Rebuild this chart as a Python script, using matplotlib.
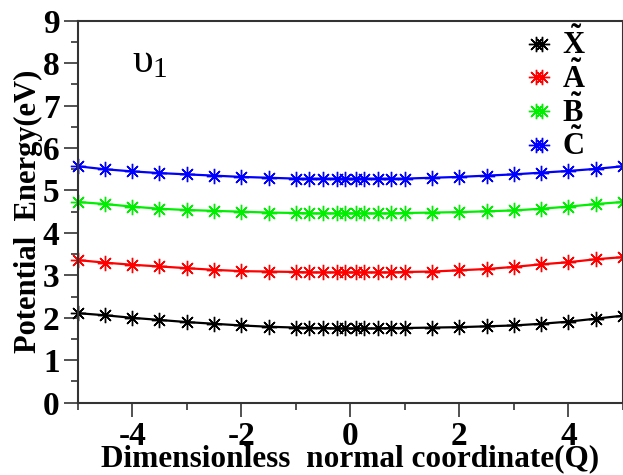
import numpy as np
import matplotlib
matplotlib.use("Agg")
import matplotlib.pyplot as plt
from matplotlib.ticker import MultipleLocator

plt.rcParams['font.family'] = ['Liberation Serif', 'DejaVu Serif']
plt.rcParams['font.weight'] = 'bold'
plt.rcParams['axes.unicode_minus'] = False
plt.rcParams['mathtext.fontset'] = 'custom'
plt.rcParams['mathtext.rm'] = 'Liberation Serif:weight=normal'
plt.rcParams['mathtext.bf'] = 'Liberation Serif:bold'
plt.rcParams['mathtext.it'] = 'Liberation Serif:italic'

# data
q = [-5, -4.5, -4, -3.5, -3, -2.5, -2, -1.5, -1, -0.75, -0.5, -0.25, -0.1,
     0.1, 0.25, 0.5, 0.75, 1, 1.5, 2, 2.5, 3, 3.5, 4, 4.5, 5]
X = [2.11, 2.06, 2.00, 1.95, 1.90, 1.86, 1.82, 1.79, 1.77, 1.76, 1.76, 1.75, 1.75,
     1.75, 1.75, 1.75, 1.76, 1.76, 1.77, 1.78, 1.80, 1.82, 1.86, 1.91, 1.98, 2.05]
A = [3.36, 3.30, 3.25, 3.21, 3.17, 3.13, 3.10, 3.09, 3.08, 3.07, 3.07, 3.07, 3.07,
     3.07, 3.07, 3.07, 3.07, 3.08, 3.09, 3.12, 3.15, 3.20, 3.26, 3.31, 3.38, 3.43]
B = [4.73, 4.68, 4.62, 4.57, 4.54, 4.52, 4.50, 4.48, 4.47, 4.46, 4.46, 4.46, 4.46,
     4.46, 4.46, 4.46, 4.46, 4.47, 4.48, 4.49, 4.51, 4.53, 4.57, 4.62, 4.68, 4.73]
C = [5.57, 5.50, 5.45, 5.41, 5.38, 5.35, 5.32, 5.30, 5.28, 5.28, 5.28, 5.28, 5.28,
     5.28, 5.28, 5.28, 5.28, 5.28, 5.30, 5.32, 5.35, 5.38, 5.42, 5.46, 5.51, 5.57]
labels = [r'$\mathbf{\tilde{X}}$', r'$\mathbf{\tilde{A}}$',
          r'$\mathbf{\tilde{B}}$', r'$\mathbf{\tilde{C}}$']
colors = ['black', 'red', '#00ee00', 'blue']

fig = plt.figure(figsize=(6.23, 4.75), dpi=100)
ax = fig.add_axes([0.1247, 0.1522, 0.8753, 0.8042])

for ys, lab, c in zip([X, A, B, C], labels, colors):
    ax.plot(q, ys, color=c, lw=1.6, marker=(8, 2, 0), markersize=11,
            markeredgewidth=1.0, label=lab, clip_on=False)

ax.set_xlim(-5, 5)
ax.set_ylim(0, 9)
ax.xaxis.set_major_locator(MultipleLocator(2))
ax.xaxis.set_minor_locator(MultipleLocator(1))
ax.yaxis.set_major_locator(MultipleLocator(1))
ax.yaxis.set_minor_locator(MultipleLocator(0.5))
ax.tick_params(which='major', direction='out', length=10, width=1.2, color='#333333',
               labelsize=24, pad=3)
ax.tick_params(which='minor', direction='out', length=5, width=1.2, color='#333333')
ax.tick_params(axis='x', pad=3)
for s in ax.spines.values():
    s.set_linewidth(1.5)
    s.set_color('#333333')

ax.set_xlabel('Dimensionless  normal coordinate(Q)', fontsize=22.5, fontweight='bold')
ax.xaxis.set_label_coords(0.5, -0.108)
ax.set_ylabel('Potential  Energy(eV)', fontsize=22, fontweight='bold', labelpad=0)

ax.text(0.10, 0.865, r'$\mathrm{\upsilon}_{1}$', transform=ax.transAxes, fontsize=30,
        fontweight='normal')

leg = ax.legend(loc='upper right', bbox_to_anchor=(0.965, 1.03), frameon=False,
                fontsize=22, numpoints=2, handlelength=0.8, handletextpad=0.35,
                labelspacing=0.0, borderaxespad=0.2)

fig.savefig('out.png', dpi=100)
